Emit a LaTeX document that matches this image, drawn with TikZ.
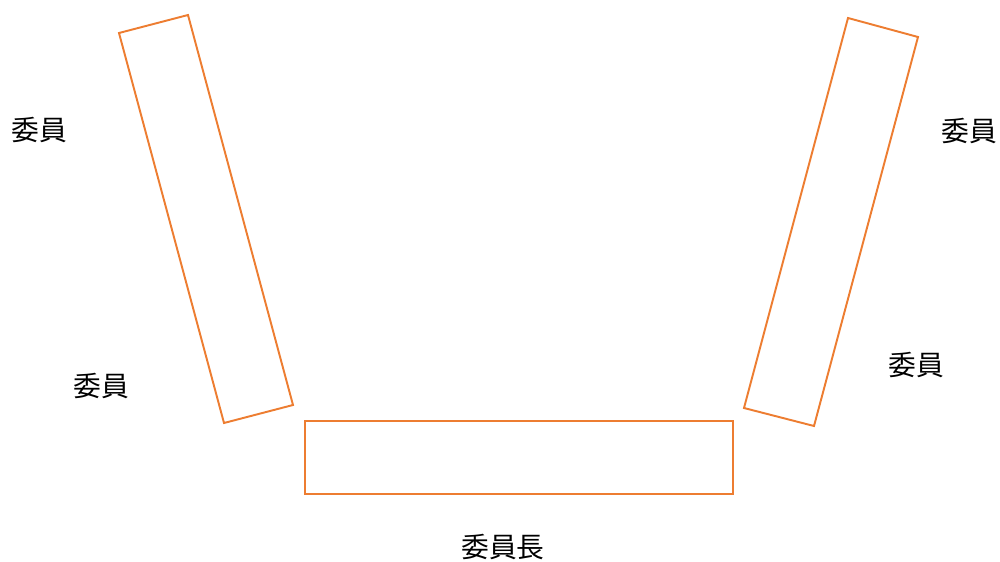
\documentclass[tikz,border=0pt]{standalone}
\usepackage{fontspec}
\newfontfamily\cjk{Noto Sans CJK JP}
\definecolor{tableorange}{HTML}{ED7D31}
\begin{document}
\begin{tikzpicture}[x=0.02cm,y=-0.02cm,
	table/.style={draw=tableorange,line width=1.1pt,line join=miter},
	seat/.style={font=\cjk\fontsize{15.8}{18}\selectfont,inner sep=0pt}]
	\useasboundingbox (0,0) rectangle (1000,561);

	% Tische
	\draw[table] (119,33) -- (188,15) -- (293,405) -- (224,423) -- cycle;
	\draw[table] (848,18) -- (918,37) -- (814,426) -- (744,408) -- cycle;
	\draw[table] (305,421) rectangle (733,494);

	% Sitzplaetze
	\node[seat] (leftupper) at (39,130) {委員};
	\node[seat] (leftlower) at (101,386) {委員};
	\node[seat] (rightupper) at (969,131) {委員};
	\node[seat] (rightlower) at (916,365) {委員};
	\node[seat] (chair) at (503,547) {委員長};
\end{tikzpicture}
\end{document}
